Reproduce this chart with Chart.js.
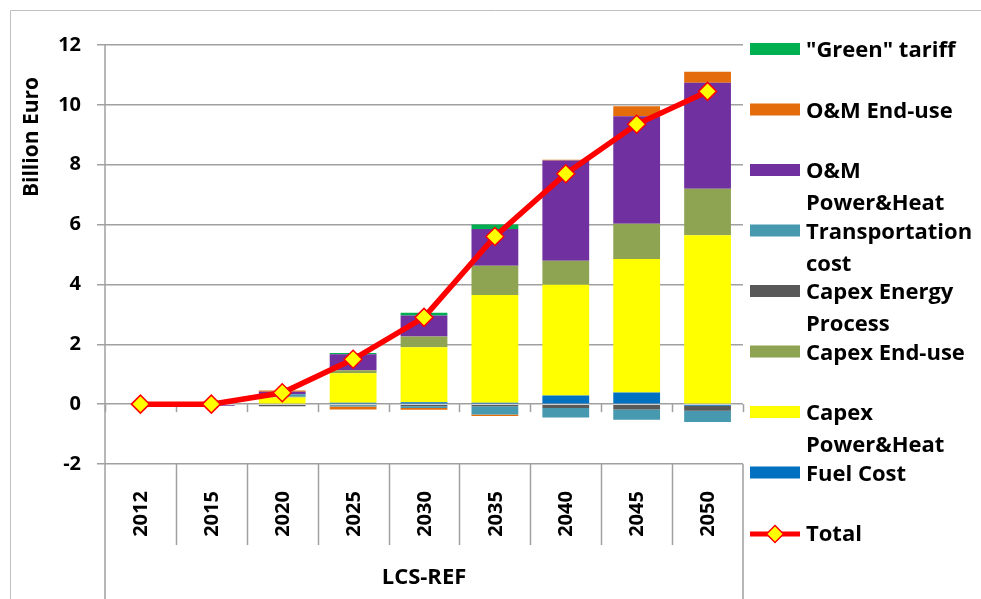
<!DOCTYPE html>
<html lang="en">
<head>
    <meta charset="UTF-8">
    <title>LCS-REF costs</title>
    <script src="https://cdn.jsdelivr.net/npm/chart.js"></script>
    <style>
        body { margin: 0; background: #fff; }
        canvas { display: block; }
    </style>
</head>
<body>
    <canvas id="costChart" width="981" height="599"></canvas>

    <script>
        // Years and cost components (billion euro)
        const years = ['2012', '2015', '2020', '2025', '2030', '2035', '2040', '2045', '2050'];
        const fuelCost = [0, 0, 0.02, 0.05, 0.06, 0.05, 0.29, 0.39, -0.05];
        const capexPowerHeat = [0, 0, 0.2, 0.98, 1.84, 3.6, 3.7, 4.46, 5.64];
        const capexEndUse = [0, 0, 0.03, 0.1, 0.36, 0.97, 0.8, 1.18, 1.56];
        const capexEnergyProcess = [0, 0, -0.07, -0.04, -0.07, -0.07, -0.13, -0.18, -0.17];
        const transportCost = [0, 0, 0.08, -0.04, -0.06, -0.28, -0.32, -0.34, -0.38];
        const omPowerHeat = [0, -0.05, 0.08, 0.54, 0.7, 1.23, 3.35, 3.59, 3.54];
        const omEndUse = [0, 0, 0.05, -0.1, -0.06, -0.05, 0.03, 0.33, 0.37];
        const greenTariff = [0, 0, 0, 0.04, 0.09, 0.15, 0, 0, 0];
        const total = [0, 0, 0.38, 1.5, 2.9, 5.6, 7.7, 9.35, 10.45];
        const yTicks = [-2, 0, 2, 4, 6, 8, 10, 12];

        const FONT = '"Open Sans"';
        const GRID = '#a0a0a0';

        // legend entries, top to bottom
        const legendItems = [
            { lines: ['"Green" tariff'], color: '#00b050' },
            { lines: ['O&M End-use'], color: '#e46c0a' },
            { lines: ['O&M', 'Power&Heat'], color: '#7030a0' },
            { lines: ['Transportation', 'cost'], color: '#4799b0' },
            { lines: ['Capex Energy', 'Process'], color: '#595959' },
            { lines: ['Capex End-use'], color: '#8ea453' },
            { lines: ['Capex', 'Power&Heat'], color: '#ffff00' },
            { lines: ['Fuel Cost'], color: '#0070c0' },
            { lines: ['Total'], line: true }
        ];

        function barSet(label, data, color) {
            return { type: 'bar', label, data, backgroundColor: color, borderWidth: 0, stack: 'cost', order: 1 };
        }

        // Axes, category boxes, titles and legend drawn on the canvas
        const decorations = {
            id: 'decorations',
            beforeDatasetsDraw(chart) {
                const { ctx, chartArea: a, scales: { y } } = chart;
                const step = (a.right - a.left) / years.length;
                const zero = y.getPixelForValue(0);
                ctx.save();
                ctx.strokeStyle = GRID;
                ctx.lineWidth = 1.5;
                // tick marks under the zero line
                for (let k = 0; k <= years.length; k++) {
                    const px = Math.round(a.left + k * step) + 0.5;
                    ctx.beginPath();
                    ctx.moveTo(px, zero);
                    ctx.lineTo(px, zero + 8);
                    ctx.stroke();
                }
                ctx.restore();
            },
            afterDraw(chart) {
                const { ctx, chartArea: a, scales: { x } } = chart;
                const step = (a.right - a.left) / years.length;
                ctx.save();
                ctx.strokeStyle = GRID;
                ctx.lineWidth = 1.5;

                // vertical axis running down through the category boxes
                ctx.beginPath();
                ctx.moveTo(a.left, a.top);
                ctx.lineTo(a.left, 599);
                ctx.moveTo(a.right, a.bottom);
                ctx.lineTo(a.right, 599);
                ctx.stroke();

                // separators between the year boxes
                for (let k = 1; k < years.length; k++) {
                    const px = Math.round(a.left + k * step) + 0.5;
                    ctx.beginPath();
                    ctx.moveTo(px, a.bottom);
                    ctx.lineTo(px, a.bottom + 81);
                    ctx.stroke();
                }

                // year labels, reading upwards
                ctx.fillStyle = '#000';
                ctx.font = 'bold 20px ' + FONT;
                ctx.textAlign = 'center';
                ctx.textBaseline = 'middle';
                years.forEach((yr, i) => {
                    ctx.save();
                    ctx.translate(x.getPixelForValue(i), a.bottom + 50);
                    ctx.rotate(-Math.PI / 2);
                    ctx.fillText(yr, 0, 1);
                    ctx.restore();
                });

                // scenario label
                ctx.font = 'bold 22px ' + FONT;
                ctx.fillText('LCS-REF', (a.left + a.right) / 2, 578);

                // y title
                ctx.font = 'bold 21px ' + FONT;
                ctx.save();
                ctx.translate(32, 137);
                ctx.rotate(-Math.PI / 2);
                ctx.fillText('Billion Euro', 0, 0);
                ctx.restore();

                // outer frame
                ctx.strokeStyle = '#c0c0c0';
                ctx.lineWidth = 1;
                ctx.beginPath();
                ctx.moveTo(10.5, 599);
                ctx.lineTo(10.5, 10.5);
                ctx.lineTo(981, 10.5);
                ctx.stroke();

                // legend
                ctx.font = 'bold 22px ' + FONT;
                ctx.textAlign = 'left';
                legendItems.forEach((item, i) => {
                    const cy = 50 + i * 60.5;
                    if (item.line) {
                        ctx.strokeStyle = '#ff0000';
                        ctx.lineWidth = 5;
                        ctx.beginPath();
                        ctx.moveTo(750, cy);
                        ctx.lineTo(800, cy);
                        ctx.stroke();
                        ctx.fillStyle = '#ffff00';
                        ctx.strokeStyle = '#ff0000';
                        ctx.lineWidth = 1.5;
                        ctx.beginPath();
                        ctx.moveTo(775, cy - 8.5);
                        ctx.lineTo(783.5, cy);
                        ctx.lineTo(775, cy + 8.5);
                        ctx.lineTo(766.5, cy);
                        ctx.closePath();
                        ctx.fill();
                        ctx.stroke();
                    } else {
                        ctx.fillStyle = item.color;
                        ctx.fillRect(750, cy - 7, 50, 12);
                    }
                    ctx.fillStyle = '#000';
                    item.lines.forEach((t, j) => ctx.fillText(t, 806, cy + 1 + j * 32));
                });
                ctx.restore();
            }
        };

        new Chart(document.getElementById('costChart'), {
            data: {
                labels: years,
                datasets: [
                    barSet('Fuel Cost', fuelCost, '#0070c0'),
                    barSet('Capex Power&Heat', capexPowerHeat, '#ffff00'),
                    barSet('Capex End-use', capexEndUse, '#8ea453'),
                    barSet('Capex Energy Process', capexEnergyProcess, '#595959'),
                    barSet('Transportation cost', transportCost, '#4799b0'),
                    barSet('O&M Power&Heat', omPowerHeat, '#7030a0'),
                    barSet('O&M End-use', omEndUse, '#e46c0a'),
                    barSet('"Green" tariff', greenTariff, '#00b050'),
                    {
                        type: 'line',
                        label: 'Total',
                        data: total,
                        stack: 'total',
                        order: 0,
                        borderColor: '#ff0000',
                        borderWidth: 5.5,
                        tension: 0,
                        pointStyle: 'rectRot',
                        pointRadius: 9,
                        pointBackgroundColor: '#ffff00',
                        pointBorderColor: '#ff0000',
                        pointBorderWidth: 1.5
                    }
                ]
            },
            options: {
                responsive: false,
                animation: false,
                layout: { padding: { left: 10, top: 45, right: 238, bottom: 135 } },
                datasets: { bar: { categoryPercentage: 1, barPercentage: 0.66 } },
                plugins: { legend: { display: false }, tooltip: { enabled: false } },
                scales: {
                    x: {
                        display: false,
                        stacked: true,
                        offset: true
                    },
                    y: {
                        stacked: true,
                        min: -2,
                        max: 12,
                        afterBuildTicks: (scale) => { scale.ticks = yTicks.map(v => ({ value: v })); },
                        afterFit: (scale) => { scale.width = 95; },
                        ticks: {
                            color: '#000',
                            padding: 16,
                            font: { family: FONT, size: 20, weight: 'bold' }
                        },
                        grid: { color: GRID, lineWidth: 1.5, tickLength: 8 },
                        border: { display: false }
                    }
                }
            },
            plugins: [decorations]
        });
    </script>
</body>
</html>
